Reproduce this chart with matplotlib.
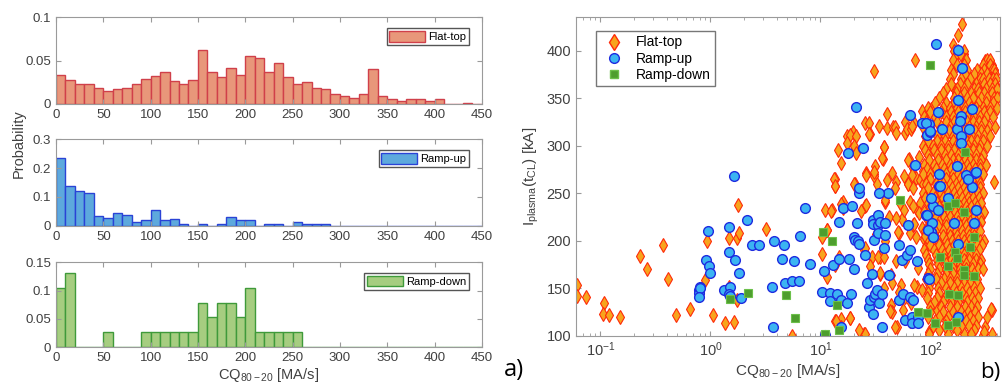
import numpy as np
import matplotlib
matplotlib.use('Agg')
import matplotlib.pyplot as plt
from matplotlib.patches import Patch
from matplotlib.lines import Line2D

plt.rcParams['font.family'] = ['Liberation Sans', 'DejaVu Sans']
plt.rcParams['mathtext.fontset'] = 'custom'
plt.rcParams['mathtext.rm'] = 'Liberation Sans'
plt.rcParams['mathtext.it'] = 'Liberation Sans:italic'

# ---- histogram data (bins of 10 MA/s from 0) ----
bin_left = np.arange(0, 450, 10)
flat_prob = [0.0337, 0.0275, 0.0236, 0.0225, 0.0182, 0.0147, 0.017, 0.018, 0.023, 0.0287,
             0.032, 0.0364, 0.026, 0.0225, 0.0275, 0.0624, 0.0364, 0.031, 0.0415, 0.0337,
             0.0558, 0.0535, 0.0364, 0.047, 0.031, 0.0236, 0.025, 0.019, 0.017, 0.011,
             0.0097, 0.0066, 0.011, 0.040, 0.009, 0.0054, 0.003, 0.006, 0.006, 0.003,
             0.006, 0.0, 0.0, 0.001, 0.0]
up_prob = [0.234, 0.138, 0.12, 0.113, 0.033, 0.026, 0.044, 0.038, 0.012, 0.019,
           0.056, 0.019, 0.024, 0.006, 0.0, 0.006, 0.0, 0.006, 0.031, 0.019,
           0.019, 0.0, 0.006, 0.006, 0.0, 0.012, 0.006, 0.006, 0.006] + [0.0] * 16
down_count = [4, 5, 0, 0, 0, 1, 0, 0, 0, 1, 1, 1, 1, 1, 1, 3, 2, 3, 3, 2,
              4, 1, 1, 1, 1, 1] + [0] * 19
down_prob = [c / 38 for c in down_count]

# ---- scatter data: CQ80-20 [MA/s], Ip(tCL) [kA] ----
flat_pts = [
    (0.061, 153), (0.061, 142), (0.074, 141), (0.108, 134), (0.105, 123), (0.12, 122),
    (0.152, 120), (0.23, 184), (0.267, 170), (0.37, 195), (0.41, 159), (0.49, 122),
    (0.65, 128), (0.89, 158), (0.93, 200), (1.05, 122), (1.35, 113), (1.49, 151),
    (1.49, 203), (1.64, 114), (1.73, 203), (1.83, 208), (1.78, 237), (1.73, 137),
    (3.2, 212), (5.5, 100), (10.4, 204), (10.4, 186), (11, 232), (11.5, 211), (13.5, 174),
    (13.7, 115), (12.8, 232), (15.5, 117), (15.5, 109), (18.7, 118), (14.7, 183),
    (16.2, 241), (16.2, 234), (24.8, 102), (24.8, 190), (25.6, 236), (29.4, 183),
    (31.9, 207), (32.6, 214), (34.9, 183), (34.9, 165), (37.5, 150), (38.8, 241),
    (38.8, 199), (44, 164), (44, 132), (44.5, 125), (49.5, 109), (51.3, 208), (55, 223),
    (56.9, 127), (58.9, 178), (58.9, 141), (65.2, 208), (65.2, 115), (75, 151), (77.7, 171),
    (75, 232), (70, 216),
    (194, 428), (179, 416), (162, 406), (203, 396), (200, 392), (72.6, 390), (30.4, 378),
    (311, 389), (360, 385), (375, 380), (266, 375), (347, 369), (405, 361), (197, 367),
    (168, 359), (191, 357), (290, 359), (40, 333), (25.5, 324), (27.5, 324), (34.4, 321),
    (40, 318), (46, 320), (59, 313), (71.5, 324), (83, 336), (102, 338), (134, 338),
    (155, 334), (17.5, 310), (19.6, 314), (28, 312), (37.5, 299), (14.5, 295), (15.5, 282),
    (26, 271), (31, 270), (37, 286), (20.8, 259), (13.5, 265), (13.7, 257), (40, 264),
    (48.4, 262), (62.9, 260), (74.5, 266), (86, 273), (63.6, 286), (140, 302), (118, 299),
    (92.6, 296),
    (47.2, 320), (59, 325), (61, 317), (67, 317), (68.7, 321), (27.5, 312), (48.7, 313),
    (18.4, 311), (21.1, 310), (17.4, 303), (20, 300), (21, 292), (37.6, 299), (36.6, 287),
    (63, 285), (78, 288), (70, 276), (31.6, 278), (44.6, 271), (30.5, 268), (13.2, 265),
    (13.6, 257), (25.7, 269), (30.5, 272), (57, 268), (68, 269), (80, 264), (87, 271),
    (20.4, 259), (32.7, 259), (47.7, 255), (63, 260), (69.5, 255), (85, 259), (39, 243),
    (53, 239), (64.7, 241), (80, 239), (12.6, 231), (15.5, 238), (23.5, 231), (25.7, 237),
    (41.6, 225), (48.7, 224), (57, 232), (69.5, 236), (79, 229), (51, 209), (71.5, 217),
    (84, 213), (88, 202), (74.5, 204), (92, 194), (11.5, 211), (25.3, 192), (33.3, 183),
    (37.6, 183), (34.6, 166), (48.7, 178), (44.6, 155), (53.5, 153), (71.5, 153), (84, 148),
    (28.3, 173), (11.5, 162), (42.7, 126), (52, 146), (13.8, 115), (18.7, 118), (25.3, 102),
    (47.7, 109), (22.5, 106), (66.5, 134),
    (377, 262), (362, 127), (315, 109), (300, 101), (200, 102), (145, 102), (96.5, 104),
    (114, 127), (352, 128), (310, 104),
]

# dense flat-top cloud, read row by row: (Ip, [CQ values])
flat_rows = [
    (400, [165, 180, 200]),
    (395, [170, 190]),
    (390, [160, 205, 210, 330, 345]),
    (385, [175, 200, 300, 350]),
    (380, [155, 195, 215, 265, 310, 360, 380]),
    (375, [160, 205, 250, 290, 330, 385]),
    (370, [150, 190, 230, 280, 300, 340, 370, 395]),
    (365, [155, 185, 215, 260, 310, 350, 385]),
    (360, [140, 175, 200, 250, 270, 320, 360, 400]),
    (355, [130, 170, 200, 235, 275, 310, 360]),
    (350, [120, 165, 185, 215, 245, 290, 330, 380, 405]),
    (345, [110, 140, 165, 195, 225, 270, 320, 370]),
    (340, [95, 130, 150, 175, 205, 235, 260, 300, 350, 400]),
    (335, [100, 125, 155, 180, 205, 240, 275, 305, 345]),
    (330, [88, 110, 140, 160, 190, 215, 250, 280, 320, 370]),
    (325, [92, 115, 140, 165, 190, 215, 245, 275, 305]),
    (320, [85, 100, 125, 150, 170, 200, 225, 260, 290, 340, 390]),
    (315, [100, 125, 148, 175, 200, 230, 255, 290, 330]),
    (310, [90, 115, 135, 160, 185, 210, 240, 270, 310, 350]),
    (305, [95, 115, 135, 160, 185, 210, 235, 265, 300]),
    (300, [85, 105, 125, 145, 170, 195, 220, 250, 285, 330]),
    (295, [90, 108, 125, 145, 165, 190, 215, 245, 275]),
    (290, [95, 115, 135, 155, 180, 205, 230, 260, 300]),
    (285, [98, 118, 140, 160, 180, 205, 230, 260, 290]),
    (280, [88, 108, 128, 150, 170, 190, 215, 245, 280, 320]),
    (275, [93, 112, 132, 155, 175, 198, 225, 255, 285]),
    (270, [85, 100, 120, 140, 160, 180, 205, 235, 265, 300]),
    (265, [100, 120, 140, 160, 185, 210, 240, 270]),
    (260, [92, 112, 130, 150, 170, 195, 220, 250, 285]),
    (255, [95, 115, 135, 158, 178, 200, 225, 255, 285]),
    (250, [86, 105, 125, 145, 165, 185, 210, 240, 270, 300]),
    (245, [90, 110, 130, 150, 170, 195, 220, 245, 275]),
    (240, [95, 115, 135, 155, 175, 200, 225, 255, 290]),
    (235, [100, 120, 140, 162, 185, 210, 235, 265]),
    (230, [88, 108, 128, 148, 168, 190, 215, 245, 275, 305]),
    (225, [92, 112, 132, 152, 175, 198, 222, 250, 280]),
    (220, [100, 120, 140, 160, 180, 205, 230, 260, 290]),
    (215, [98, 118, 140, 163, 185, 210, 240, 270]),
    (210, [90, 110, 130, 150, 170, 195, 220, 250, 285]),
    (205, [90, 110, 130, 152, 175, 198, 222, 250]),
    (200, [98, 118, 138, 158, 178, 200, 225, 255, 280, 310]),
    (195, [100, 120, 142, 165, 185, 210, 235, 265, 295]),
    (190, [88, 108, 128, 148, 170, 190, 215, 245, 275]),
    (185, [92, 112, 132, 155, 178, 200, 230, 260]),
    (180, [95, 115, 135, 155, 175, 200, 225, 260, 290]),
    (175, [98, 118, 140, 162, 185, 210, 245, 280]),
    (170, [100, 120, 140, 160, 185, 210, 240, 270, 300]),
    (165, [95, 115, 138, 160, 185, 215, 250]),
    (160, [92, 112, 132, 152, 175, 200, 230, 265]),
    (155, [100, 125, 150, 175, 200, 230, 265]),
    (150, [98, 118, 140, 165, 190, 215, 250, 280]),
    (145, [95, 120, 145, 170, 195, 225, 255]),
    (140, [93, 114, 135, 160, 185, 210, 240, 270]),
    (135, [108, 130, 155, 180, 215, 250]),
    (130, [100, 125, 150, 175, 205, 235, 265]),
    (125, [100, 130, 160, 190, 220, 255]),
    (120, [95, 120, 145, 170, 200, 230, 270, 330]),
    (115, [110, 140, 170, 210, 245]),
    (110, [105, 135, 160, 190, 225, 260]),
    (106, [120, 175, 250]),
    (102, [97, 235, 360]),
]

up_pts = [
    (0.95, 210), (0.91, 179), (0.97, 173), (1.0, 166), (0.80, 151), (0.79, 148), (0.78, 145),
    (0.81, 150), (0.79, 141), (1.46, 214), (1.46, 188), (1.66, 179), (1.83, 166), (1.32, 148),
    (1.52, 151), (1.46, 144), (1.9, 139), (1.52, 142), (2.16, 222), (2.38, 195), (2.74, 195),
    (3.8, 199), (4.67, 195), (4.5, 181), (3.66, 151), (4.77, 155), (5.55, 157), (6.36, 157),
    (5.75, 178), (6.5, 205), (7.2, 234), (7.97, 175), (3.73, 109), (10.4, 146), (10.7, 168),
    (10.9, 101), (12.1, 145), (13.0, 174), (12.3, 136), (14.2, 144), (14.7, 181), (14.9, 220),
    (15.5, 137), (15.5, 109), (17.4, 134), (18.0, 181), (19.1, 144), (20.1, 170), (15.9, 234),
    (19.4, 236), (20.1, 204), (20.8, 201), (21.6, 218), (22, 199), (22.6, 196), (22.6, 250),
    (25.6, 185), (26.4, 155), (27.5, 130), (28.3, 137), (29.4, 165), (29.9, 123), (29.9, 222),
    (29.9, 217), (30.5, 201), (30.5, 141), (31.2, 144), (32.6, 148), (33.3, 227), (33.7, 216),
    (33.7, 208), (34.9, 220), (34.3, 134), (36, 144), (36.6, 109), (37.5, 192), (38.3, 218),
    (38.8, 206), (41.1, 250), (42.3, 164), (51.3, 195), (51.3, 137), (55, 179), (56.9, 144),
    (58.9, 116), (61, 185), (63.1, 216), (65.2, 190), (65.2, 141), (67.5, 120), (68.5, 113),
    (70, 137), (75, 178), (76.5, 120), (77.7, 113), (92, 227), (95.7, 161), (101, 209),
    (106, 236), (1.65, 268), (21.2, 341), (17.7, 292), (24.2, 297), (22.3, 255), (34.4, 250),
    (112, 407), (179, 401), (195, 382), (179, 348), (240, 339), (116, 335), (65, 332),
    (84, 324), (97, 323), (92.5, 311), (99.7, 314), (127, 317), (173, 317), (189, 331),
    (184, 326), (225, 317), (191, 310), (188, 303), (72.6, 280), (173, 278), (120, 270),
    (219, 265), (256, 271), (120, 257), (240, 256), (101, 245), (91.5, 324), (100, 315),
    (210, 269), (262, 272), (145, 245), (218, 265), (122, 257), (262, 232), (164, 218),
    (248, 218), (179, 196), (98, 160), (92.7, 227), (103, 218), (96, 211), (106, 204),
    (118, 232), (180, 120),
]

down_pts = [
    (10.5, 209), (12.8, 199), (14.2, 132), (14.9, 106), (10.9, 101.6), (1.52, 138),
    (2.19, 145), (4.83, 143), (5.88, 118), (53, 243), (76.5, 125), (100, 385), (208, 293),
    (145, 236), (168, 239), (200, 230), (250, 204), (231, 193), (168, 188), (174, 182),
    (122, 183), (145, 173), (200, 169), (200, 164), (250, 163), (148, 144), (180, 143),
    (92.7, 124), (110, 113), (143, 111), (170, 114),
]

fig = plt.figure(figsize=(10.02, 3.88), dpi=100)
tick_col = '#404040'
spine_col = '#9a9a9a'


def style_axes(ax, fs):
    for s in ax.spines.values():
        s.set_color(spine_col)
        s.set_linewidth(0.8)
    ax.tick_params(which='both', direction='in', top=True, right=True,
                   colors=spine_col, labelcolor=tick_col, labelsize=fs)


hists = [
    ([0.0559, 0.732, 0.425, 0.2235], flat_prob, '#E8977A', '#D0404A', 'Flat-top', 0.1, [0, 0.05, 0.1]),
    ([0.0559, 0.4183, 0.425, 0.2227], up_prob, '#5DA9DD', '#2A43D6', 'Ramp-up', 0.3, [0, 0.1, 0.2, 0.3]),
    ([0.0559, 0.1049, 0.425, 0.219], down_prob, '#A6CD80', '#3F9A3A', 'Ramp-down', 0.15, [0, 0.05, 0.1, 0.15]),
]
for rect, probs, fc, ec, lab, top, yt in hists:
    ax = fig.add_axes(rect)
    ax.bar(bin_left, probs, width=10, align='edge', color=fc, edgecolor=ec, linewidth=1.0)
    ax.set_xlim(0, 450)
    ax.set_ylim(0, top)
    ax.set_xticks(np.arange(0, 451, 50))
    ax.set_yticks(yt)
    ax.set_yticklabels(['0' if v == 0 else f'{v:g}' for v in yt])
    style_axes(ax, 9.5)
    ax.legend(handles=[Patch(facecolor=fc, edgecolor=ec, label=lab)], loc='upper right',
              bbox_to_anchor=(0.975, 0.9), fontsize=8, fancybox=False, edgecolor='#555555',
              handlelength=3.2, handleheight=1.1, borderpad=0.25, handletextpad=0.3,
              borderaxespad=0.2, framealpha=1)
    last = ax
last.set_xlabel(r'CQ$_{\mathrm{80-20}}$ [MA/s]', fontsize=10.5, color=tick_col, labelpad=1)
fig.text(0.012, 0.63, 'Probability', rotation=90, fontsize=10.5, color=tick_col,
         ha='left', va='center')
fig.text(0.503, 0.03, 'a)', fontsize=17, family='Open Sans')

# ---- scatter ----
ax2 = fig.add_axes([0.5749, 0.1353, 0.4232, 0.820])
fx = [p[0] for p in flat_pts]
fy = [p[1] for p in flat_pts]
for ip, cqs in flat_rows:
    fx += cqs
    fy += [ip] * len(cqs)
ax2.plot(fx, fy, 'd', ms=7, mfc='#F7A41C', mec='#FF2A0A', mew=0.8, ls='none')
ax2.plot([p[0] for p in up_pts], [p[1] for p in up_pts], 'o', ms=7, mfc='#3BB4F2',
         mec='#1E2BE0', mew=1.0, ls='none')
ax2.plot([p[0] for p in down_pts], [p[1] for p in down_pts], 's', ms=5.5, mfc='#4E9E2E',
         mec='#6CC04A', mew=0.8, ls='none')
ax2.set_xscale('log')
ax2.set_xlim(0.06, 430)
ax2.set_ylim(100, 435)
ax2.set_yticks([100, 150, 200, 250, 300, 350, 400])
style_axes(ax2, 10.5)
ax2.set_xlabel(r'CQ$_{\mathrm{80-20}}$ [MA/s]', fontsize=11, color=tick_col, labelpad=2)
ax2.set_ylabel(r'I$_{\mathrm{plasma}}$(t$_{\mathrm{CL}}$) [kA]', fontsize=11, color=tick_col,
               labelpad=4)
handles = [
    Line2D([], [], marker='d', ms=8, mfc='#F7A41C', mec='#FF2A0A', ls='none', label='Flat-top'),
    Line2D([], [], marker='o', ms=7, mfc='#3BB4F2', mec='#1E2BE0', ls='none', label='Ramp-up'),
    Line2D([], [], marker='s', ms=5.5, mfc='#4E9E2E', mec='#6CC04A', ls='none', label='Ramp-down'),
]
ax2.legend(handles=handles, loc='upper left', bbox_to_anchor=(0.04, 0.965), fontsize=10,
           fancybox=False, edgecolor='#777777', framealpha=1, borderpad=0.3,
           labelspacing=0.15, handletextpad=0.6, borderaxespad=0.2)
fig.text(0.978, 0.025, 'b)', fontsize=16, family='Open Sans')

fig.savefig('out.png', dpi=100)
